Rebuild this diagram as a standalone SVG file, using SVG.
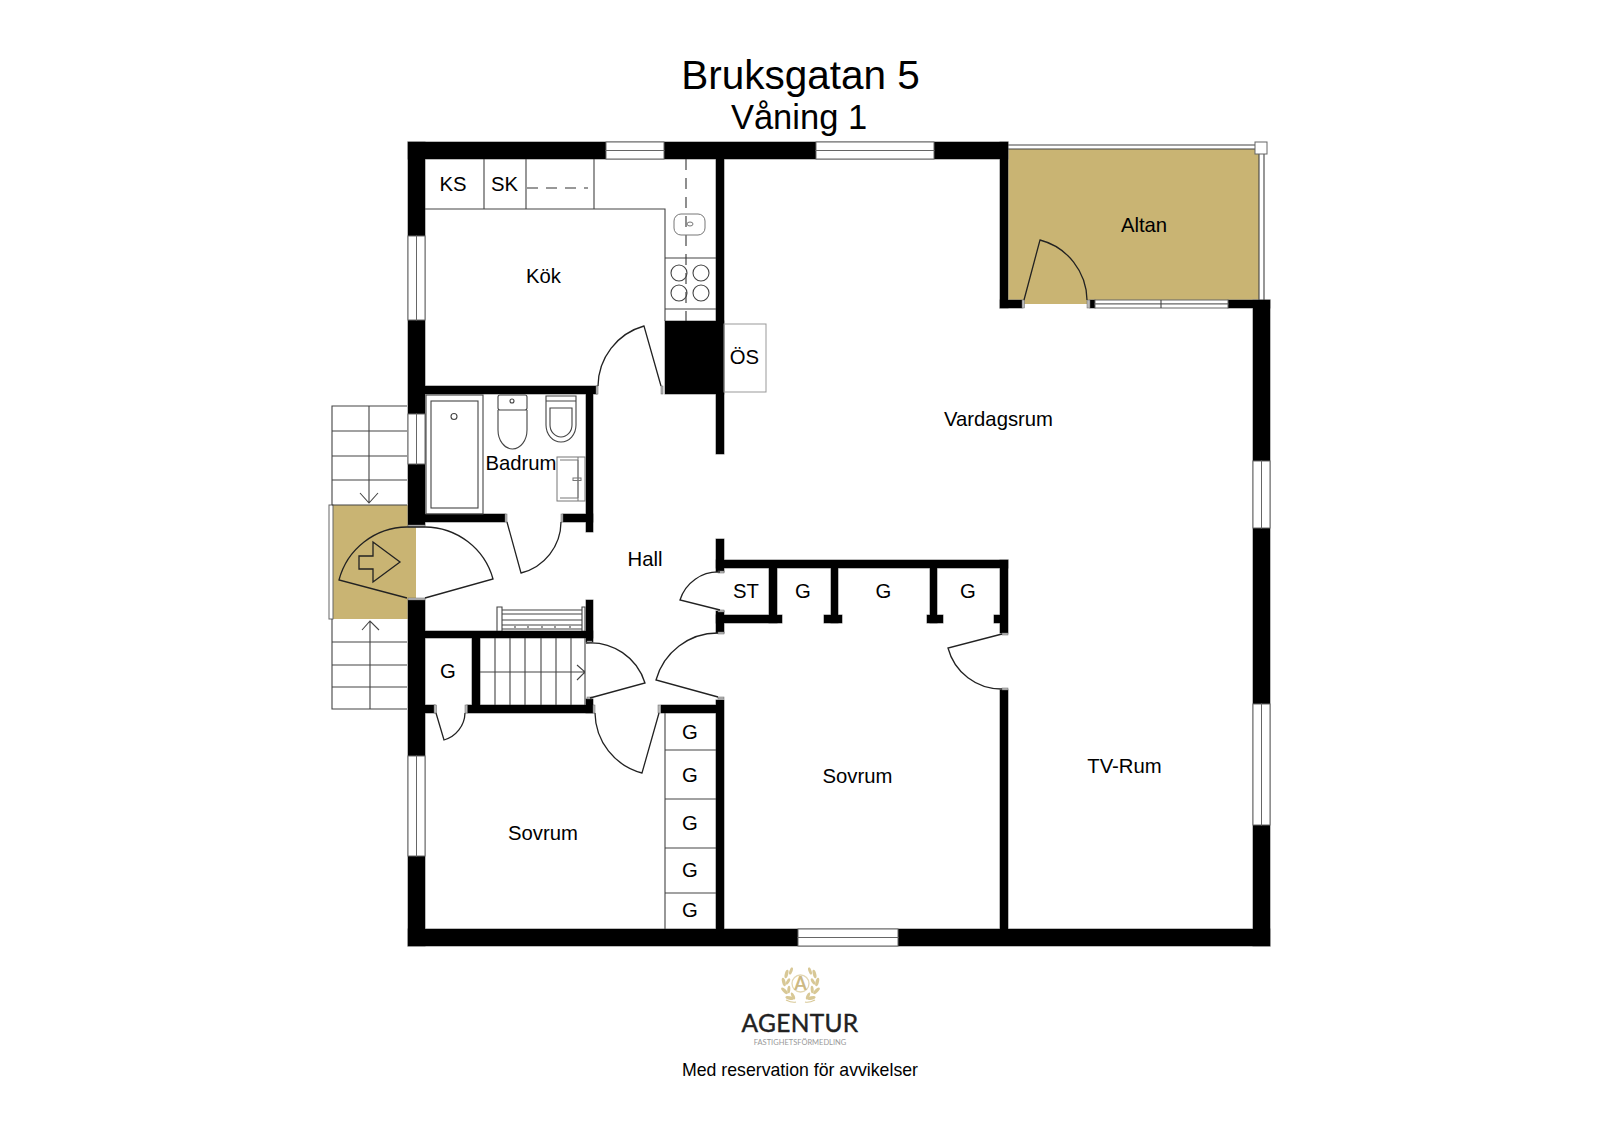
<svg xmlns="http://www.w3.org/2000/svg" width="1600" height="1131" viewBox="0 0 1600 1131">
<style>
text{font-family:"Liberation Sans",Arial,sans-serif;fill:#000;text-anchor:middle;font-size:20.300px}
.win{fill:#fff;stroke:#666;stroke-width:1}
.l{fill:none;stroke:#444;stroke-width:1.100}
.g{fill:none;stroke:#777;stroke-width:1}
.d{fill:none;stroke:#222;stroke-width:1.300}
.dash{fill:none;stroke:#333;stroke-width:1.100;stroke-dasharray:11 8}
.j{fill:#bbb;stroke:#666;stroke-width:.5}
.b{fill:#c9b473}
.leaf{fill:#d8c896}
</style>
<defs>
<g id="wall-shapes" fill="#000">
<rect x="408" y="142" width="600" height="17"/>
<rect x="408" y="142" width="17" height="383"/>
<rect x="408" y="600" width="17" height="346"/>
<rect x="408" y="929" width="862" height="17"/>
<rect x="1253" y="300" width="17" height="646"/>
<rect x="1228" y="300" width="42" height="8"/>
<rect x="1000" y="142" width="8" height="166"/>
<rect x="1000" y="300" width="22" height="8"/>
<rect x="1090" y="300" width="5" height="8"/>
<rect x="716" y="159" width="8" height="295"/>
<rect x="665" y="321" width="59" height="73"/>
<rect x="425" y="386" width="172" height="8"/>
<rect x="586" y="394" width="7" height="138"/>
<rect x="425" y="514" width="80" height="8"/>
<rect x="563" y="514" width="30" height="8"/>
<rect x="716" y="539" width="8" height="33"/>
<rect x="716" y="560" width="292" height="8"/>
<rect x="769" y="568" width="8" height="55"/>
<rect x="716" y="615" width="66" height="8"/>
<rect x="716" y="611" width="8" height="22"/>
<rect x="831" y="568" width="7" height="55"/>
<rect x="824" y="615" width="18" height="8"/>
<rect x="930" y="568" width="7" height="55"/>
<rect x="927" y="615" width="16" height="8"/>
<rect x="1000" y="560" width="8" height="73"/>
<rect x="994" y="615" width="10" height="8"/>
<rect x="1000" y="690" width="8" height="240"/>
<rect x="716" y="700" width="8" height="230"/>
<rect x="661" y="705" width="62" height="8"/>
<rect x="586" y="600" width="7" height="42"/>
<rect x="425" y="631" width="168" height="7"/>
<rect x="472" y="638" width="8" height="70"/>
<rect x="467" y="705" width="126" height="8"/>
<rect x="586" y="699" width="7" height="14"/>
<rect x="425" y="705" width="10" height="8"/>
</g>
<g id="laurel">
<ellipse class="leaf" cx="789.600" cy="998" rx="1.700" ry="4.300" transform="rotate(-75 789.600 998)"/>
<ellipse class="leaf" cx="784.500" cy="990.800" rx="1.700" ry="4.300" transform="rotate(-45 784.500 990.800)"/>
<ellipse class="leaf" cx="783.800" cy="982" rx="1.700" ry="4.300" transform="rotate(-15 783.800 982)"/>
<ellipse class="leaf" cx="786.500" cy="974" rx="1.700" ry="4.300" transform="rotate(15 786.500 974)"/>
<ellipse class="leaf" cx="791" cy="971" rx="1.500" ry="3.800" transform="rotate(20 791 971)"/>
<ellipse class="leaf" cx="793" cy="996" rx="1.500" ry="3.800" transform="rotate(-25 793 996)"/>
<ellipse class="leaf" cx="788.800" cy="989.500" rx="1.500" ry="3.800" transform="rotate(5 788.800 989.500)"/>
<ellipse class="leaf" cx="788" cy="981.500" rx="1.500" ry="3.500" transform="rotate(30 788 981.500)"/>
<path d="M796 1002Q792 1003 786 1000" fill="none" stroke="#d8c896" stroke-width="1.200"/>
</g>
</defs>
<rect width="1600" height="1131" fill="#fff"/>

<g id="terrace-floor">
<rect class="b" x="1008" y="149" width="251" height="155"/>
<rect class="b" x="333" y="505" width="83" height="114"/>
</g>

<g id="walls">
<use href="#wall-shapes" stroke="#777" stroke-width="1"/>
<use href="#wall-shapes"/>
</g>

<g id="windows">
<rect class="win" x="606" y="142" width="58" height="8.500"/><rect class="win" x="606" y="150.500" width="58" height="8.500"/>
<rect class="win" x="816" y="142" width="118" height="8.500"/><rect class="win" x="816" y="150.500" width="118" height="8.500"/>
<rect class="win" x="408" y="236" width="8.500" height="84"/><rect class="win" x="416.500" y="236" width="8.500" height="84"/>
<rect class="win" x="408" y="414" width="8.500" height="50"/><rect class="win" x="416.500" y="414" width="8.500" height="50"/>
<rect class="win" x="408" y="756" width="8.500" height="100"/><rect class="win" x="416.500" y="756" width="8.500" height="100"/>
<rect class="win" x="1253" y="461" width="8.500" height="67"/><rect class="win" x="1261.500" y="461" width="8.500" height="67"/>
<rect class="win" x="1253" y="704" width="8.500" height="121"/><rect class="win" x="1261.500" y="704" width="8.500" height="121"/>
<rect class="win" x="798" y="929" width="100" height="8.500"/><rect class="win" x="798" y="937.500" width="100" height="8.500"/>
<rect class="win" x="1095" y="300" width="133" height="4"/><rect class="win" x="1095" y="304" width="133" height="4"/>
<path class="l" d="M1161 300V308"/>
</g>

<g id="door-jambs">
<rect class="j" x="596" y="386" width="2" height="8"/><rect class="j" x="661" y="386" width="2" height="8"/>
<rect class="j" x="505" y="514" width="2" height="8"/><rect class="j" x="561" y="514" width="2" height="8"/>
<rect class="j" x="408" y="525" width="17" height="2"/><rect class="j" x="408" y="598" width="17" height="2"/>
<rect class="j" x="718" y="571" width="6" height="2"/><rect class="j" x="718" y="610" width="6" height="2"/>
<rect class="j" x="718" y="632" width="6" height="2"/><rect class="j" x="718" y="697" width="6" height="2"/>
<rect class="j" x="1002" y="633" width="6" height="2"/><rect class="j" x="1002" y="688" width="6" height="2"/>
<rect class="j" x="587" y="641" width="5" height="2"/><rect class="j" x="587" y="697" width="5" height="2"/>
<rect class="j" x="593" y="705" width="2" height="8"/><rect class="j" x="658" y="705" width="2.500" height="8"/>
<rect class="j" x="434" y="705" width="2.500" height="8"/><rect class="j" x="465" y="705" width="2.500" height="8"/>
<rect class="j" x="1022" y="300" width="2.500" height="8"/><rect class="j" x="1087" y="300" width="3" height="8"/>
</g>

<g id="doors">
<path class="d" d="M661 386L644 326A63 63 0 0 0 598 386"/>
<path class="d" d="M507 522L521 573A53 53 0 0 0 561 522"/>
<path class="d" d="M407 598L339 580A71 71 0 0 1 407 527H425A71 71 0 0 1 493 579L425 598"/>
<path class="d" d="M720 610L680 600A40 40 0 0 1 720 572"/>
<path class="d" d="M718 697L656 680A64 64 0 0 1 718 633"/>
<path class="d" d="M1002 634L948 648A55 55 0 0 0 1002 689"/>
<path class="d" d="M590 698L645 683A57 57 0 0 0 586 643"/>
<path class="d" d="M659 713L642 773A63 63 0 0 1 595 713"/>
<path class="d" d="M436 713L444 740A29 29 0 0 0 465 713"/>
<path class="d" d="M1024 300L1040 240A63 63 0 0 1 1087 300"/>
<path class="d" d="M359 556H373V542L400 562L373 582V569H359Z"/>
</g>

<g id="kitchen">
<path class="l" d="M425 209H665V321M484 159V209M526 159V209M594 159V209M665 258H716M665 309H716"/>
<path class="dash" d="M527 188H588M686 159V321"/>
<rect class="g" x="674" y="214" width="31" height="21" rx="7"/>
<ellipse class="g" cx="690" cy="224" rx="3" ry="2"/>
<circle class="l" cx="679" cy="273" r="8"/><circle class="l" cx="701" cy="273" r="8"/>
<circle class="l" cx="679" cy="293" r="8"/><circle class="l" cx="701" cy="293" r="8"/>
<rect class="g" x="724" y="324" width="42" height="68" style="stroke:#999"/>
</g>

<g id="bathroom">
<rect class="l" x="426" y="395" width="57" height="119"/>
<rect class="l" x="431" y="401" width="47" height="107"/>
<circle class="l" cx="454" cy="416.500" r="3"/>
<rect class="l" x="498" y="395" width="29" height="15" rx="2"/>
<circle class="l" cx="512" cy="401" r="2"/>
<path class="l" d="M498 410V430A14.500 19 0 0 0 527 430V410"/>
<path class="l" d="M546 396H576V425A15 17 0 0 1 546 425Z"/>
<path class="l" d="M546 401H576M550 408H572V425A11 12 0 0 1 550 425Z"/>
<rect class="g" x="557" y="457" width="28" height="44"/>
<path class="g" d="M560 460H578V498H560M578 457V501"/>
<rect class="g" x="573" y="478" width="8" height="2.500"/>
</g>

<g id="entrance">
<rect class="win" x="329" y="505" width="4" height="114"/>
<path class="l" d="M332 505V406H407M332 431H407M332 456H407M332 480H407M332 505H407M369 406V503M360 493L369 503L378 493"/>
<path class="l" d="M332 619V709H407M332 642H407M332 665H407M332 687H407M370 709V621M362 630L370 621L379 630"/>
</g>

<g id="stairs">
<path class="l" d="M495 638V705M510 638V705M525 638V705M541 638V705M556 638V705M571 638V705M585 638V705M480 672H585M577 665L585 672L577 680"/>
</g>

<g id="bench">
<path class="l" d="M497 631V607H502V631M582 631V607H585V631M502 610H582M502 614H582M502 620H582M502 625H582M502 629H582M515 626V628M528 626V628M542 626V628M555 626V628M570 626V628"/>
</g>

<g id="wardrobes">
<path class="l" d="M665 713V929M665 750H716M665 799H716M665 848H716M665 893H716"/>
</g>

<g id="railing">
<path class="l" d="M1008 145H1255M1008 149H1255M1259 154V300M1264 154V300"/>
<rect class="win" x="1255" y="142" width="12" height="12"/>
</g>

<g id="labels">
<text x="800.500" y="89" style="font-size:40.500px">Bruksgatan 5</text>
<text x="799" y="129" style="font-size:34.500px">Våning 1</text>
<text x="453" y="191">KS</text>
<text x="504.500" y="191">SK</text>
<text x="543.500" y="283">Kök</text>
<text x="744.500" y="364">ÖS</text>
<text x="1144" y="231.500">Altan</text>
<text x="998.500" y="426">Vardagsrum</text>
<text x="521" y="469.500">Badrum</text>
<text x="645" y="566">Hall</text>
<text x="746" y="598">ST</text>
<text x="803" y="598">G</text>
<text x="883.500" y="598">G</text>
<text x="968" y="598">G</text>
<text x="448" y="678">G</text>
<text x="690" y="738.500">G</text>
<text x="690" y="781.500">G</text>
<text x="690" y="830">G</text>
<text x="690" y="876.500">G</text>
<text x="690" y="917">G</text>
<text x="543" y="840">Sovrum</text>
<text x="857.500" y="783">Sovrum</text>
<text x="1124.500" y="772.500">TV-Rum</text>
<text x="800" y="1075.500" style="font-size:17.700px">Med reservation för avvikelser</text>
</g>

<g id="logo">
<circle cx="800.500" cy="983.500" r="8.500" fill="none" stroke="#e2d6b2" stroke-width="1.300"/>
<text x="800.500" y="990" style="font-family:Lato,sans-serif;font-weight:700;font-size:18px;fill:#cdb983">A</text>
<use href="#laurel"/>
<use href="#laurel" transform="translate(1601 0) scale(-1 1)"/>
<text x="800" y="1031.500" style="font-family:Lato,sans-serif;font-size:24.500px;fill:#222;stroke:#222;stroke-width:.4;letter-spacing:.3px">AGENTUR</text>
<text x="800" y="1044.500" style="font-family:Lato,sans-serif;font-size:7.500px;fill:#999">FASTIGHETSFÖRMEDLING</text>
</g>
</svg>
